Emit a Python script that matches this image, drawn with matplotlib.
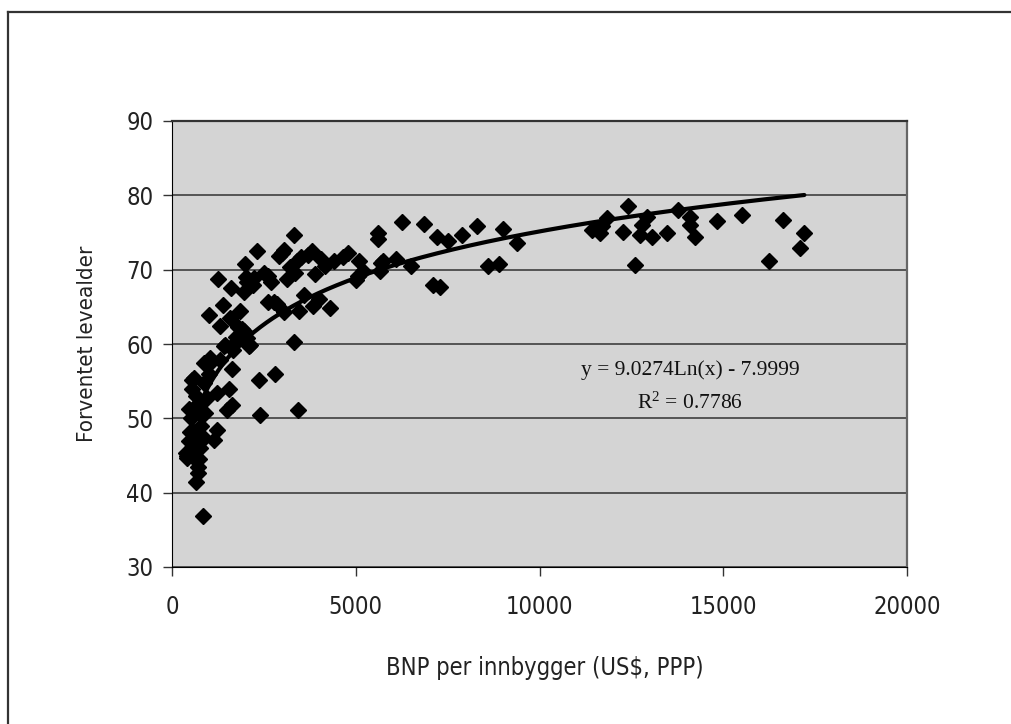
import numpy as np
import matplotlib.pyplot as plt
from matplotlib.lines import Line2D
from matplotlib import font_manager

# BNP per innbygger (US$, PPP) og forventet levealder per land
bnp = [380, 400, 420, 450, 455, 480, 500, 520, 545, 550,
       560, 590, 590, 600, 620, 640, 650, 680, 680, 700,
       720, 726, 740, 760, 780, 800, 850, 860, 862, 870,
       907, 950, 998, 1000, 1043, 1100, 1134, 1224, 1230, 1250,
       1300, 1315, 1400, 1406, 1450, 1497, 1542, 1587, 1600, 1633,
       1633, 1650, 1700, 1723, 1750, 1800, 1860, 1900, 1950, 1950,
       1995, 2000, 2040, 2040, 2100, 2131, 2200, 2222, 2313, 2358,
       2385, 2500, 2600, 2600, 2700, 2767, 2812, 2850, 2900, 2993,
       3050, 3050, 3130, 3200, 3310, 3310, 3350, 3401, 3428, 3450,
       3500, 3600, 3700, 3800, 3850, 3900, 4000, 4050, 4150, 4300,
       4400, 4650, 4800, 5000, 5050, 5100, 5200, 5600, 5600, 5650,
       5700, 5750, 6100, 6250, 6500, 6850, 7100, 7200, 7300, 7500,
       7900, 8300, 8600, 8900, 9000, 9400, 11420, 11500, 11646, 11700,
       11828, 12281, 12417, 12599, 12735, 12800, 12916, 13053, 13461, 13778,
       14095, 14095, 14231, 14821, 15502, 16254, 16617, 17088, 17206]
levealder = [45.4, 44.6, 45.0, 51.3, 46.9, 48.2, 45.5, 50.0, 54.0, 55.1,
             45.8, 44.6, 55.4, 48.0, 51.5, 53.0, 41.5, 46.4, 50.9, 43.5,
             42.6, 52.0, 44.5, 46.0, 49.0, 50.5, 36.8, 47.3, 54.7, 57.4,
             50.7, 52.7, 63.9, 56.0, 58.1, 57.7, 47.1, 48.4, 53.4, 68.7,
             62.4, 57.9, 65.3, 59.7, 59.9, 51.1, 54.0, 63.5, 67.6, 51.8,
             56.7, 59.2, 60.0, 60.1, 61.0, 62.3, 64.4, 62.0, 61.7, 67.0,
             70.7, 69.0, 60.8, 68.4, 59.7, 59.9, 68.0, 68.9, 72.5, 55.2,
             50.4, 69.6, 69.1, 65.6, 68.4, 65.7, 55.9, 65.4, 71.9, 72.2,
             72.6, 64.3, 68.7, 70.4, 74.7, 60.3, 69.6, 71.1, 51.1, 64.4,
             71.7, 66.6, 72.0, 72.5, 65.1, 69.4, 66.0, 71.5, 70.5, 64.8,
             71.1, 71.7, 72.2, 68.6, 69.2, 71.1, 69.8, 75.0, 74.1, 69.8,
             70.9, 71.2, 71.5, 76.4, 70.5, 76.2, 67.9, 74.4, 67.7, 73.8,
             74.6, 75.9, 70.5, 70.7, 75.5, 73.6, 75.3, 75.6, 74.9, 75.9,
             76.9, 75.1, 78.5, 70.6, 74.7, 76.0, 77.1, 74.4, 74.9, 78.0,
             77.1, 76.0, 74.4, 76.5, 77.4, 71.1, 76.7, 72.9, 74.9]

# logaritmisk trendlinje
a, b = 9.0274, -7.9999
r2 = 0.7786

# smal skrift hvis den finnes
navn = {f.name for f in font_manager.fontManager.ttflist}
if 'Liberation Sans Narrow' in navn:
    smal = dict(family='Liberation Sans Narrow')
else:
    smal = dict(family='DejaVu Sans', stretch='condensed')

fig = plt.figure(figsize=(10.11, 7.24), dpi=100)
ax = fig.add_axes([172 / 1011, 1 - 567 / 724, 735 / 1011, 446 / 724])
ax.set_facecolor('#d4d4d4')

ax.plot(bnp, levealder, linestyle='none', marker='D', markersize=7.8,
        color='black', zorder=3)

xs = np.linspace(min(bnp), max(bnp), 400)
ax.plot(xs, a * np.log(xs) + b, color='black', linewidth=3, zorder=4,
        solid_capstyle='round')

ax.set_xlim(0, 20000)
ax.set_ylim(30, 90)
ax.set_xticks([0, 5000, 10000, 15000, 20000])
ax.set_yticks([30, 40, 50, 60, 70, 80, 90])
ax.yaxis.grid(True, color='#4a4a4a', linewidth=1.3)
ax.set_axisbelow(True)

for lab in ax.get_xticklabels() + ax.get_yticklabels():
    lab.set(**smal)
    lab.set_fontsize(17)
    lab.set_color('#222222')
ax.tick_params(axis='both', direction='out', length=6.5, width=1,
               color='#333333')
ax.tick_params(axis='x', pad=14)
ax.tick_params(axis='y', pad=7)

ax.spines['left'].set_color('black')
ax.spines['bottom'].set_color('black')
ax.spines['top'].set_color('#333333')
ax.spines['top'].set_linewidth(1.6)
ax.spines['right'].set_color('#666666')
ax.spines['right'].set_linewidth(1.6)

ax.set_xlabel('BNP per innbygger (US$, PPP)', fontsize=17,
              color='#222222', **smal)
ax.xaxis.set_label_coords(0.507, -0.2)
ax.set_ylabel('Forventet levealder', fontsize=16,
              color='#222222', **smal)
ax.yaxis.set_label_coords(-0.102, 0.5)

ax.text(14095, 56.5, 'y = 9.0274Ln(x) - 7.9999', family='Liberation Serif',
        fontsize=15.5, ha='center', va='center', color='#111111')
ax.text(14095, 52.0, '$\\mathregular{R^2}$ = %.4f' % r2,
        family='Liberation Serif', fontsize=15.5, ha='center', va='center',
        color='#111111')

# ramme rundt diagrammet (venstre og topp)
fig.add_artist(Line2D([7.5 / 1011, 7.5 / 1011], [0, 1 - 12 / 724],
                      color='#333333', linewidth=1.6))
fig.add_artist(Line2D([7.5 / 1011, 1], [1 - 12 / 724, 1 - 12 / 724],
                      color='#333333', linewidth=1.6))

fig.savefig('out.png', dpi=100)
